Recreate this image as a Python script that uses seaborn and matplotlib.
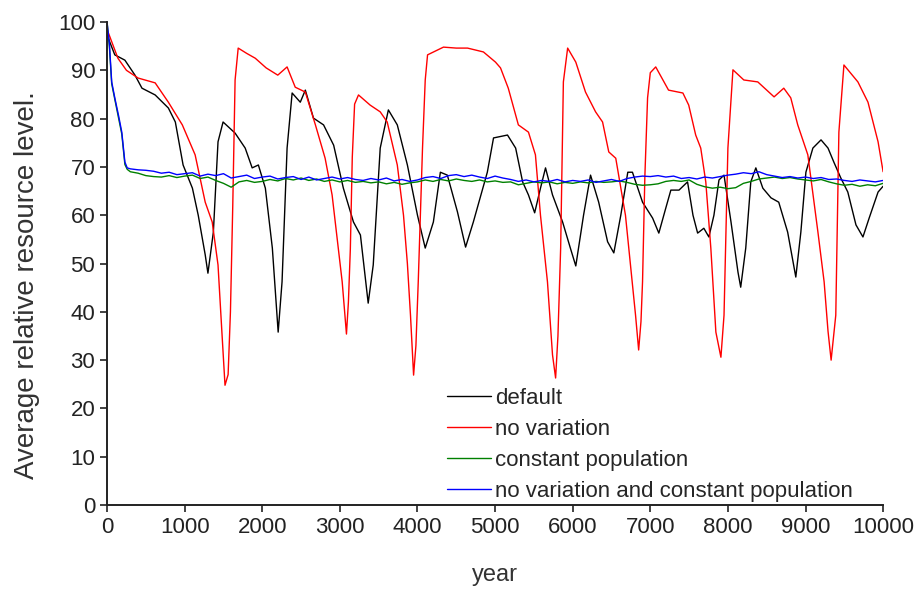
import matplotlib
matplotlib.use("Agg")
import matplotlib.pyplot as plt
import seaborn as sns
import numpy as np
import pandas as pd

# values (year, average relative resource level)
default_year = [0, 100, 230, 360, 450, 620, 790, 880, 980, 1100, 1175, 1265, 1300, 1370,
                1430, 1495, 1650, 1780, 1870, 1950, 2040, 2130, 2205, 2255, 2320, 2385,
                2490, 2555, 2660, 2790, 2920, 3045, 3175, 3265, 3365, 3430, 3520, 3625,
                3740, 3870, 4000, 4100, 4205, 4295, 4385, 4515, 4620, 4720, 4900, 4980,
                5160, 5265, 5355, 5430, 5510, 5585, 5650, 5740, 5870, 5970, 6040, 6140,
                6230, 6335, 6450, 6530, 6620, 6710, 6770, 6900, 7030, 7110, 7200, 7265,
                7370, 7480, 7550, 7610, 7690, 7755, 7820, 7885, 7950, 8040, 8130, 8165,
                8230, 8295, 8360, 8450, 8555, 8655, 8770, 8875, 8940, 9005, 9095, 9200,
                9290, 9365, 9455, 9545, 9650, 9740, 9820, 9935, 10000]
default_level = [97.3, 93.2, 92.1, 89.0, 86.3, 84.9, 82.2, 79.3, 70.4, 65.6, 60.0, 51.8, 48.0, 56.5,
                 75.2, 79.3, 77.0, 73.9, 69.8, 70.4, 65.6, 53.2, 35.8, 46.2, 73.9, 85.3,
                 83.4, 85.9, 80.1, 78.7, 74.5, 65.6, 58.6, 55.9, 41.8, 49.7, 73.9, 81.8,
                 78.7, 70.4, 60.0, 53.2, 58.6, 68.9, 68.3, 60.7, 53.4, 58.6, 68.9, 76.0,
                 76.6, 73.9, 66.9, 64.2, 60.5, 65.6, 69.8, 64.2, 58.6, 53.2, 49.5, 60.0,
                 68.3, 62.7, 54.5, 52.2, 60.0, 68.9, 68.9, 62.7, 59.4, 56.3, 61.5, 65.2,
                 65.2, 66.9, 60.0, 56.3, 57.3, 55.5, 60.0, 67.3, 68.3, 58.6, 48.2, 45.1,
                 53.2, 66.9, 69.8, 65.6, 63.6, 62.7, 56.5, 47.2, 56.5, 68.9, 73.9, 75.6,
                 73.9, 71.0, 67.7, 64.8, 58.0, 55.5, 59.4, 64.8, 66.0]

novar_year = [0, 140, 250, 400, 620, 790, 970, 1135, 1265, 1355, 1430, 1480, 1520, 1560,
              1590, 1620, 1650, 1690, 1800, 1910, 2050, 2200, 2320, 2425, 2555, 2685,
              2810, 2900, 2970, 3030, 3085, 3110, 3135, 3160, 3190, 3240, 3390, 3520,
              3610, 3740, 3820, 3870, 3910, 3950, 3980, 4010, 4065, 4100, 4130, 4335,
              4500, 4645, 4850, 5005, 5070, 5170, 5300, 5430, 5520, 5585, 5675, 5740,
              5780, 5810, 5845, 5880, 5935, 6040, 6165, 6295, 6385, 6465, 6555, 6680,
              6810, 6850, 6880, 6900, 6930, 6965, 7000, 7070, 7235, 7420, 7495, 7585,
              7650, 7715, 7780, 7845, 7910, 7950, 8000, 8065, 8205, 8385, 8595, 8720,
              8810, 8900, 9030, 9160, 9240, 9290, 9330, 9390, 9430, 9495, 9675, 9805,
              9935, 10000]
novar_level = [98.5, 92.5, 90.0, 88.4, 87.4, 83.4, 78.7, 72.5, 62.7, 58.6, 49.7, 35.8, 24.8, 27.0,
               40.0, 62.0, 88.0, 94.6, 93.5, 92.5, 90.5, 89.0, 90.7, 86.5, 85.5, 78.7,
               71.8, 64.2, 54.5, 46.2, 35.4, 42.0, 53.0, 72.0, 83.0, 84.9, 82.8, 81.4,
               79.3, 70.4, 60.0, 50.0, 39.3, 26.9, 33.0, 46.2, 73.9, 88.0, 93.2, 94.8,
               94.6, 94.6, 93.8, 91.7, 90.5, 86.3, 78.7, 77.2, 72.5, 60.0, 46.2, 31.1,
               26.3, 35.0, 53.2, 87.6, 94.6, 91.7, 85.5, 81.4, 79.3, 73.1, 71.8, 60.0,
               39.3, 32.1, 38.0, 46.2, 68.0, 84.3, 89.5, 90.7, 85.9, 85.3, 82.8, 76.6,
               73.9, 66.9, 53.2, 35.8, 30.6, 39.3, 73.9, 90.1, 88.0, 87.6, 84.5, 86.3,
               84.3, 78.7, 72.5, 56.5, 46.2, 36.0, 30.0, 39.3, 77.2, 91.1, 87.6, 83.4,
               75.2, 69.0]

const_year = [0, 30, 60, 100, 150, 190, 230, 260] + list(range(300, 10001, 100))
constpop_level = [100, 95.0, 87.2, 84.0, 80.0, 76.8, 70.5, 69.5,
                  69.0, 68.7, 68.2, 68.0, 67.9, 68.2, 67.8, 68.1,
                  68.3, 67.6, 67.9, 67.2, 66.6, 65.8, 66.9, 67.2, 66.8, 67.0,
                  67.4, 67.1, 67.6, 67.3, 67.7, 67.2, 67.5, 67.0, 67.3, 66.9,
                  67.2, 66.8, 67.0, 66.7, 66.9, 66.5, 66.8, 66.4, 66.7, 66.9,
                  67.3, 67.0, 67.4, 67.1, 67.5, 67.2, 67.0, 67.3, 66.9, 67.1,
                  66.8, 66.9, 66.3, 66.6, 66.9, 66.7, 66.9, 66.5, 66.8, 66.6,
                  66.9, 66.7, 67.0, 66.8, 66.9, 67.1, 66.8, 66.4, 66.2, 66.3,
                  66.5, 67.0, 67.2, 67.0, 67.3, 66.4, 65.9, 65.6, 65.8, 65.5,
                  65.7, 66.6, 67.0, 67.5, 67.7, 67.9, 67.6, 67.8, 67.5, 67.3,
                  67.1, 67.4, 66.9, 66.5, 66.2, 66.4, 66.0, 66.3, 66.1, 66.6]
both_level = [100, 95.5, 87.6, 84.3, 80.5, 77.2, 71.0, 69.8,
              69.6, 69.4, 69.3, 69.1, 68.7, 68.9, 68.4, 68.6,
              68.8, 68.1, 68.5, 68.2, 68.6, 67.7, 68.0, 68.3, 67.6, 67.9,
              68.1, 67.5, 67.8, 68.0, 67.4, 67.9, 67.3, 67.6, 67.9, 67.5,
              67.8, 67.4, 67.2, 67.6, 67.3, 67.7, 67.1, 67.4, 67.0, 67.3,
              67.8, 68.0, 67.6, 68.2, 68.4, 68.0, 68.3, 67.9, 67.6, 68.1,
              67.7, 67.4, 67.0, 67.3, 66.9, 67.2, 67.0, 67.4, 66.9, 67.2,
              67.0, 67.3, 66.8, 67.1, 67.4, 67.0, 67.6, 67.9, 68.1, 68.0,
              68.2, 67.9, 68.1, 67.6, 67.8, 67.5, 67.9, 67.7, 68.0, 68.3,
              68.5, 68.8, 68.6, 69.0, 68.4, 68.1, 67.8, 68.0, 67.7, 67.9,
              67.6, 67.8, 67.4, 67.5, 67.2, 67.0, 67.3, 67.1, 66.9, 67.2]

series_names = ["default", "no variation", "constant population",
                "no variation and constant population"]
series_colors = ["#000000", "#ff0000", "#008000", "#0000ff"]

frames = []
for name, xs, ys in zip(series_names,
                        [default_year, novar_year, const_year, const_year],
                        [default_level, novar_level, constpop_level, both_level]):
    frames.append(pd.DataFrame({"year": xs, "level": ys, "series": name}))
df = pd.concat(frames, ignore_index=True)

sns.set_style("ticks")
plt.rcParams['font.family'] = ['Liberation Sans', 'DejaVu Sans']

fig = plt.figure(figsize=(9.18, 5.90), dpi=100)
ax = fig.add_axes([0.1166, 0.144, 0.8454, 0.8187])

sns.lineplot(data=df, x="year", y="level", hue="series", hue_order=series_names,
             palette=dict(zip(series_names, series_colors)), estimator=None,
             linewidth=1.0, ax=ax)

ax.set_xlim(0, 10000)
ax.set_ylim(0, 100)
ax.set_xticks(np.arange(0, 10001, 1000))
ax.set_yticks(np.arange(0, 101, 10))
ax.set_xlabel("year", fontsize=17, color="#333333", labelpad=19)
ax.set_ylabel("Average relative resource level.", fontsize=20, color="#333333")
ax.yaxis.set_label_coords(-0.087, 0.455)
ax.tick_params(axis="both", labelsize=16, length=5, width=1.2, colors="#222222",
               labelcolor="#222222", direction="out")
for side in ["top", "right"]:
    ax.spines[side].set_visible(False)
for side in ["left", "bottom"]:
    ax.spines[side].set_linewidth(1.4)
    ax.spines[side].set_color("#222222")

ax.legend(loc="upper left", bbox_to_anchor=(0.438, 0.242), frameon=False,
          fontsize=16, handlelength=2.0, handletextpad=0.15, labelspacing=0.45,
          borderaxespad=0, borderpad=0)

fig.savefig("out.png", dpi=100)
